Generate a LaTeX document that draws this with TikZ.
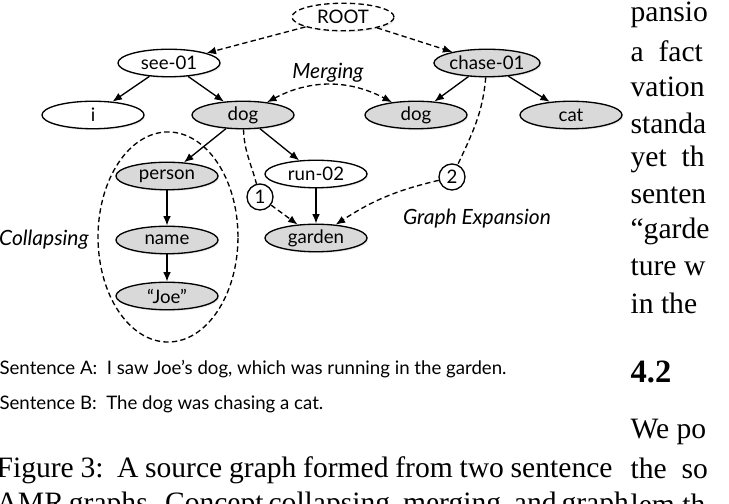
\documentclass[tikz,border=0pt]{standalone}
\usepackage{fontspec}
\setmainfont{Liberation Serif}
\newfontfamily\gill{Lato}
\usepackage{tikz}
\usetikzlibrary{arrows.meta,positioning,shapes.geometric,shadows}

\begin{document}
\begin{tikzpicture}[
  x=0.338pt, y=-0.338pt,
  >={Latex[length=3.2pt,width=2.6pt]},
  every node/.style={font=\gill\fontsize{6.3}{7}\selectfont},
  dashline/.style={dash pattern=on 1.8pt off 1.1pt},
  plainnode/.style={ellipse, draw, line width=0.45pt, fill=white, inner sep=0pt,
    minimum width=34.5pt, minimum height=9.3pt,
    drop shadow={shadow xshift=0.4pt, shadow yshift=-0.5pt, opacity=0.15}},
  graynode/.style={plainnode, fill=black!15},
  rootnode/.style={plainnode, dashline},
  numnode/.style={circle, draw, line width=0.45pt, fill=white, inner sep=0pt,
    minimum size=8.8pt},
  edgeS/.style={->, line width=0.45pt},
  edgeD/.style={edgeS, dashline},
  opname/.style={font=\gill\itshape\fontsize{7.1}{8}\selectfont},
  sentline/.style={anchor=west, inner sep=0pt, font=\gill\fontsize{6.3}{7}\selectfont},
  coltext/.style={anchor=west, inner sep=0pt, font=\fontsize{10}{12}\selectfont},
]
\useasboundingbox (0,0) rectangle (729,504);
\clip (0,0) rectangle (729,504);
\fill[white] (0,0) rectangle (729,504);

% the two AMR graphs
\node[rootnode] (root) at (343,17) {ROOT};
\node[plainnode] (see) at (169,63) {see-01};
\node[graynode] (chase) at (487,63) {chase-01};
\node[plainnode] (i) at (93,115) {i};
\node[graynode] (dogA) at (243,115) {dog};
\node[graynode] (dogB) at (416,115) {dog};
\node[graynode] (cat) at (571,115) {cat};
\node[graynode] (person) at (167,176) {person};
\node[plainnode] (run) at (316,174) {run-02};
\node[graynode] (name) at (167,240) {name};
\node[graynode] (garden) at (316,238) {garden};
\node[graynode] (joe) at (167,296) {“Joe”};
\node[numnode] (c1) at (260,197) {1};
\node[numnode] (c2) at (452,177) {2};
\node[ellipse, draw, dashline, line width=0.45pt, minimum width=47.3pt,
  minimum height=71pt] (collapse) at (168,237) {};

\draw[edgeD] (root) -- (see);
\draw[edgeD] (root) -- (chase);
\draw[edgeS] (see) -- (i);
\draw[edgeS] (see) -- (dogA);
\draw[edgeS] (chase) -- (dogB);
\draw[edgeS] (chase) -- (cat);
\draw[edgeS] (dogA) -- (person);
\draw[edgeS] (dogA) -- (run);
\draw[edgeS] (person) -- (name);
\draw[edgeS] (name) -- (joe);
\draw[edgeS] (run) -- (garden);
\draw[edgeD, <->] (dogA) to[bend left=28] (dogB);
\draw[line width=0.45pt, dashline] (dogA) to[out=-88, in=105] (c1);
\draw[edgeD] (c1) -- (garden);
\draw[line width=0.45pt, dashline] (chase) to[out=-95, in=65] (c2);
\draw[edgeD] (c2) to[bend right=10] (garden);

\node[opname] (merge) at (328,73) {Merging};
\node[opname] (collab) at (44,240) {Collapsing};
\node[opname] (expand) at (477,219) {Graph Expansion};

% sentences and caption
\node[sentline] (sentA) at (-1,369) {Sentence A:\ \ I saw Joe’s dog, which was running in the garden.};
\node[sentline] (sentB) at (-1,404) {Sentence B:\ \ The dog was chasing a cat.};
\node[anchor=west, inner sep=0pt, font=\fontsize{10}{12}\selectfont] (cap1) at (-4,470)
  {\makebox[208.2pt][s]{Figure 3:\ \ A source graph formed from two sentence}};
\node[anchor=west, inner sep=0pt, font=\fontsize{10}{12}\selectfont] (cap2) at (-4,505)
  {\makebox[208.2pt][s]{AMR graphs.\ \ Concept collapsing, merging, and graph}};

% right column
\node[coltext] (r1) at (630,15) {pansio};
\node[coltext] (r2) at (630,51) {a\ \ fact};
\node[coltext] (r3) at (630,87) {vation};
\node[coltext] (r4) at (630,123) {standa};
\node[coltext] (r5) at (630,159) {yet\ \ th};
\node[coltext] (r6) at (630,195) {senten};
\node[coltext] (r7) at (630,231) {“garde};
\node[coltext] (r8) at (630,267) {ture w};
\node[coltext] (r9) at (630,303) {in the};
\node[coltext, font=\fontsize{11}{13}\selectfont\bfseries] (sec) at (630,372) {4.2};
\node[coltext] (r10) at (630,432) {We po};
\node[coltext] (r11) at (630,468) {the\ \ so};
\node[coltext] (r12) at (630,504) {lem th};
\end{tikzpicture}
\end{document}
